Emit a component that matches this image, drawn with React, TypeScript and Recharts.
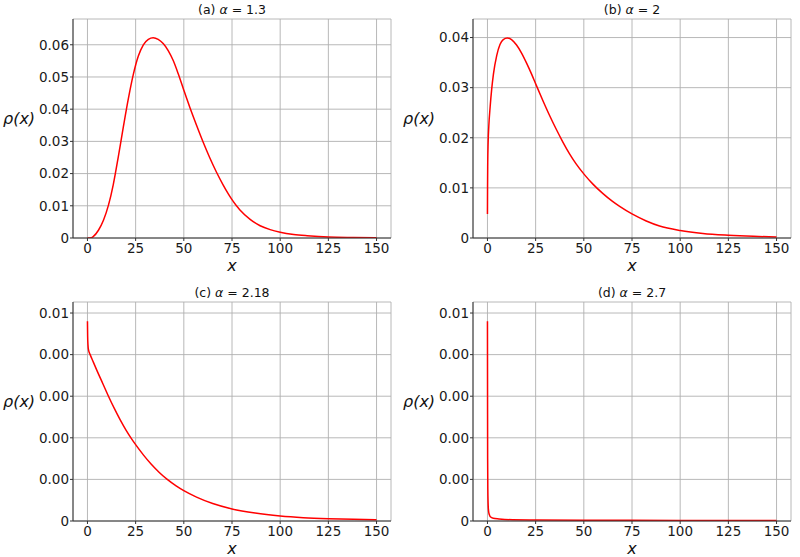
import React from 'react'
import { CartesianGrid, Line, LineChart, XAxis, YAxis } from 'recharts'

// x positions shared by all four panels
const X_TICKS = [0, 25, 50, 75, 100, 125, 150]

// (a) alpha = 1.3
const xA = [0, 2, 3.1, 5.7, 8.3, 10.9, 13.4, 16, 18.6, 21.2, 23.8, 26.4, 29, 31.6, 34.1, 36.7, 39.3, 41.9, 44.5, 47.1, 50, 53.1, 56.6, 60, 63.4, 66.9, 70.3, 73, 75, 77.3, 79, 84.4, 89.6, 94.8, 100, 107, 114, 125, 138, 150]
const rhoA = [0, 0.0001, 0.0005, 0.0024, 0.0055, 0.0102, 0.0166, 0.0252, 0.0344, 0.0432, 0.0508, 0.0565, 0.06, 0.0617, 0.0622, 0.0617, 0.0604, 0.0582, 0.0551, 0.051, 0.0459, 0.0406, 0.035, 0.0298, 0.025, 0.0205, 0.0166, 0.0138, 0.0119, 0.01, 0.0088, 0.0058, 0.0038, 0.0026, 0.0018, 0.0011, 0.0007, 0.0003, 0.00017, 0.0001]

// (b) alpha = 2
const xB = [0, 0.05, 0.15, 0.35, 0.7, 1.4, 2.2, 3.1, 4.8, 6.5, 8.2, 10.3, 12.5, 15.1, 17.7, 20.3, 22.9, 25.3, 28.9, 32.3, 35.7, 39.2, 42.6, 46, 50.2, 54.6, 59.8, 64.9, 68.6, 75, 82.4, 89.3, 100, 111.8, 125, 138, 150]
const rhoB = [0.0048, 0.01, 0.015, 0.019, 0.0223, 0.0262, 0.0297, 0.0327, 0.0364, 0.0386, 0.0396, 0.0399, 0.0396, 0.0385, 0.0369, 0.0349, 0.0327, 0.0305, 0.0273, 0.0244, 0.0217, 0.0191, 0.0168, 0.0148, 0.0127, 0.0108, 0.0089, 0.0073, 0.0063, 0.0048, 0.0034, 0.0024, 0.0015, 0.0009, 0.00055, 0.00033, 0.0002]

// (c) alpha = 2.18
const xC = [0, 0.1, 0.25, 0.6, 1.4, 3, 5, 8, 10.9, 14, 17, 20, 22.9, 25, 29, 33, 37, 41.4, 46, 50, 56.6, 65, 75, 87, 100, 112, 125, 138, 150]
const rhoC = [0.0096, 0.0089, 0.0085, 0.0082, 0.008, 0.00765, 0.00722, 0.0066, 0.006, 0.0054, 0.00486, 0.00437, 0.00395, 0.00367, 0.00318, 0.00274, 0.00236, 0.002, 0.00169, 0.00146, 0.00115, 0.00084, 0.00058, 0.00038, 0.00024, 0.00016, 0.00011, 0.00008, 0.00006]

// (d) alpha = 2.7
const xD = [0, 0.05, 0.1, 0.2, 0.4, 0.7, 1, 1.5, 3, 6, 13, 25, 50, 100, 150]
const rhoD = [0.0096, 0.006, 0.003, 0.0015, 0.0007, 0.0004, 0.0003, 0.0002, 0.00013, 0.0001, 0.00006, 0.00005, 0.00004, 0.00003, 0.00002]

const Y_TICKS_A = [0, 0.01, 0.02, 0.03, 0.04, 0.05, 0.06]
const Y_TICKS_B = [0, 0.01, 0.02, 0.03, 0.04]
const Y_TICKS_CD = [0, 0.002, 0.004, 0.006, 0.008, 0.01]

const toRows = (xs: number[], ys: number[]) => xs.map((x, i) => ({ x, rho: ys[i] }))

const FONT = '"DejaVu Sans", sans-serif'
const tickStyle = { fontSize: 13.5, fill: '#1a1a1a', fontFamily: FONT }
// two decimals, truncated (0.008 shows as 0.00 like the original)
const fmtY = (v: number) => (v === 0 ? '0' : (Math.floor(v * 100 + 1e-9) / 100).toFixed(2))

interface PanelProps {
  left: number
  top: number
  letter: string
  alpha: string
  rows: { x: number; rho: number }[]
  yMax: number
  yTicks: number[]
}

function Panel({ left, top, letter, alpha, rows, yMax, yTicks }: PanelProps) {
  return (
    <div style={{ position: 'absolute', left, top, width: 400, height: 280 }}>
      <LineChart width={400} height={280} data={rows} margin={{ top: 19, right: 9, bottom: 0, left: 0 }}>
        <CartesianGrid stroke="#b0b0b0" strokeWidth={0.9} />
        <XAxis
          dataKey="x"
          type="number"
          domain={[-7.5, 157.5]}
          ticks={X_TICKS}
          interval={0}
          allowDataOverflow
          height={42}
          tickSize={3}
          tickMargin={2}
          stroke="#333"
          tick={tickStyle}
        />
        <XAxis
          xAxisId="top"
          orientation="top"
          type="number"
          domain={[-7.5, 157.5]}
          height={0}
          tick={false}
          tickLine={false}
          stroke="#333"
        />
        <YAxis
          type="number"
          domain={[0, yMax]}
          ticks={yTicks}
          interval={0}
          allowDataOverflow
          width={73}
          tickSize={3}
          tickMargin={1}
          stroke="#333"
          tick={tickStyle}
          tickFormatter={fmtY}
        />
        <YAxis
          yAxisId="right"
          orientation="right"
          type="number"
          domain={[0, yMax]}
          width={0}
          tick={false}
          tickLine={false}
          stroke="#333"
        />
        <Line
          dataKey="rho"
          type="monotone"
          stroke="#ff0000"
          strokeWidth={1.5}
          dot={false}
          isAnimationActive={false}
        />
      </LineChart>

      {/* Title */}
      <div style={{
        position: 'absolute', left: 73, top: 2, width: 318, textAlign: 'center',
        fontFamily: FONT, fontSize: 12.5, lineHeight: '16px', color: '#111',
      }}>
        ({letter}) <i>α</i> = {alpha}
      </div>

      {/* y label */}
      <div style={{
        position: 'absolute', left: 3, top: 109, fontFamily: FONT, fontSize: 16,
        fontStyle: 'italic', lineHeight: '20px', color: '#111',
      }}>
        ρ(x)
      </div>

      {/* x label */}
      <div style={{
        position: 'absolute', left: 73, top: 256, width: 318, textAlign: 'center',
        fontFamily: FONT, fontSize: 16, fontStyle: 'italic', lineHeight: '20px', color: '#111',
      }}>
        x
      </div>
    </div>
  )
}

export default function App() {
  return (
    <div style={{ position: 'absolute', left: 0, top: 0, width: 800, height: 557, background: '#fff' }}>
      <Panel left={0} top={0} letter="a" alpha="1.3" rows={toRows(xA, rhoA)} yMax={0.068} yTicks={Y_TICKS_A} />
      <Panel left={400} top={0} letter="b" alpha="2" rows={toRows(xB, rhoB)} yMax={0.0437} yTicks={Y_TICKS_B} />
      <Panel left={0} top={283} letter="c" alpha="2.18" rows={toRows(xC, rhoC)} yMax={0.01053} yTicks={Y_TICKS_CD} />
      <Panel left={400} top={283} letter="d" alpha="2.7" rows={toRows(xD, rhoD)} yMax={0.01053} yTicks={Y_TICKS_CD} />
    </div>
  )
}
